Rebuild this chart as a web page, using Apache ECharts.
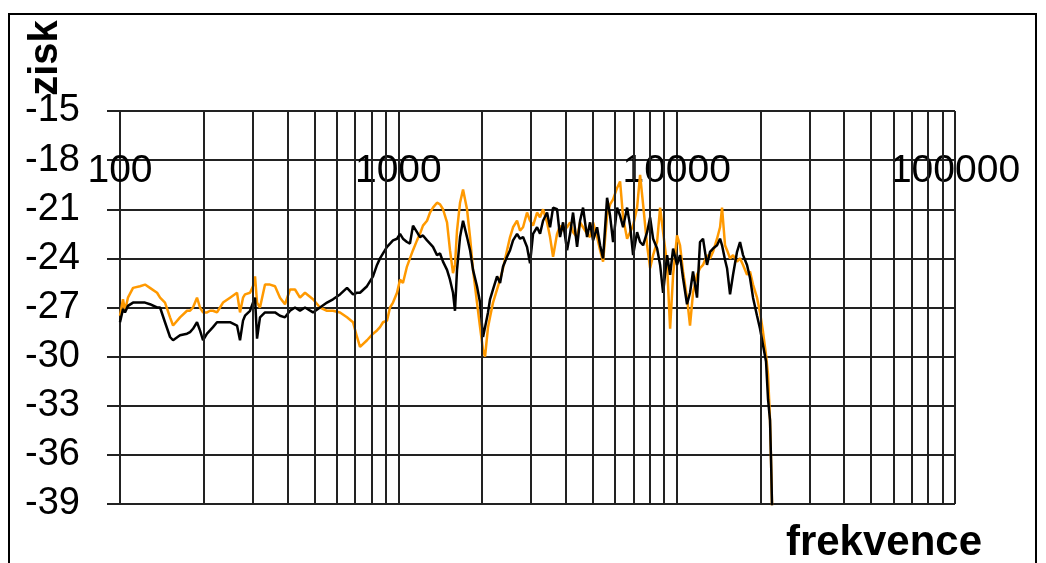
<!DOCTYPE html>
<html>
<head>
<meta charset="utf-8">
<script src="https://cdn.jsdelivr.net/npm/echarts@6/dist/echarts.min.js"></script>
<style>
  html, body { margin: 0; padding: 0; background: #fff; }
  #chart { width: 1046px; height: 563px; }
</style>
</head>
<body>
<div id="chart"></div>
<script>
// Frequency points (Hz), shared by both measurements
const freqs = [
  100, 102.5, 104.2, 106.8, 111.4, 118, 123, 128.1, 135.9, 139.3,
  145.1, 151.3, 155.1, 164.3, 174.1, 178.5, 182.9, 189.1, 193.8, 198.7,
  205.4, 210.6, 215.8, 223.1, 228.7, 234.5, 248.5, 263.3, 269.9, 276.7,
  281.3, 293.2, 300.5, 305.6, 310.7, 318.4, 331.9, 345.9, 360.5, 375.7,
  391.6, 408.1, 425.4, 443.3, 462, 493.7, 523.1, 554.3, 582.5, 617.2,
  654, 687.4, 710.5, 728.3, 771.7, 811.1, 838.3, 859.4, 881, 910.6,
  933.5, 956.9, 989.1, 1014, 1039, 1074, 1101, 1129, 1167, 1196,
  1226, 1268, 1300, 1332, 1377, 1412, 1447, 1496, 1533, 1572,
  1598, 1625, 1666, 1708, 1765, 1810, 1855, 1917, 1966, 2015,
  2049, 2100, 2135, 2189, 2263, 2320, 2378, 2458, 2520, 2583,
  2670, 2737, 2806, 2900, 2973, 3048, 3151, 3230, 3311, 3422,
  3508, 3597, 3718, 3811, 3907, 4038, 4140, 4244, 4387, 4497,
  4610, 4765, 4885, 5008, 5177, 5307, 5440, 5623, 5765, 5910,
  6109, 6262, 6420, 6636, 6802, 6974, 7208, 7389, 7575, 7830,
  8027, 8229, 8506, 8720, 8939, 9240, 9472, 9710, 10029, 10281,
  10540, 10893, 11168, 11448, 11834, 12131, 12437, 12855, 13179, 13510,
  13965, 14316, 14555, 14921, 15170, 15551, 15942, 16477, 16891, 17316,
  17898, 18348, 18809, 19441, 19930, 20431, 20944, 21294, 21649, 21829,
  22010, 22378
];

// Gain (dB) of the black measurement
const blackGain = [
  -27.9, -27.1, -27.3, -26.9, -26.7, -26.7, -26.7, -26.8, -27.0, -27.0,
  -27.9, -28.8, -29.0, -28.7, -28.6, -28.5, -28.3, -27.9, -28.4, -29.0,
  -28.6, -28.4, -28.2, -27.9, -27.9, -27.9, -27.9, -28.1, -29.0, -27.8,
  -27.5, -27.2, -26.7, -26.4, -28.9, -27.6, -27.3, -27.3, -27.3, -27.5,
  -27.6, -27.2, -27.0, -27.2, -27.0, -27.3, -27.0, -26.7, -26.5, -26.2,
  -25.8, -26.2, -26.1, -26.1, -25.7, -25.1, -24.4, -24.0, -23.7, -23.3,
  -23.1, -22.9, -22.8, -22.5, -22.8, -23.0, -23.1, -22.0, -22.4, -22.7,
  -22.6, -22.9, -23.1, -23.3, -23.8, -23.7, -24.2, -24.7, -25.3, -26.1,
  -27.2, -24.7, -22.7, -21.7, -22.7, -23.5, -24.7, -25.7, -26.7, -28.8,
  -28.2, -27.3, -26.5, -25.9, -25.1, -25.5, -24.5, -23.9, -23.5, -22.9,
  -22.5, -22.8, -22.7, -23.3, -24.3, -22.5, -22.1, -22.5, -21.7, -21.2,
  -22.1, -20.9, -21.0, -22.7, -21.8, -23.5, -22.5, -21.2, -23.3, -21.7,
  -20.9, -22.7, -21.8, -22.9, -22.1, -23.2, -24.0, -20.3, -21.4, -23.0,
  -20.9, -21.4, -22.1, -20.9, -22.0, -23.8, -22.4, -23.0, -23.2, -22.4,
  -21.5, -22.8, -23.4, -24.4, -26.1, -23.8, -25.0, -23.4, -24.4, -23.8,
  -25.2, -26.8, -26.1, -24.8, -26.4, -23.0, -22.8, -24.4, -23.6, -23.4,
  -23.2, -22.8, -23.2, -24.1, -24.6, -26.2, -25.0, -23.6, -23.0, -23.8,
  -24.4, -25.2, -26.4, -27.5, -28.3, -29.3, -30.3, -32.6, -33.9, -36.3,
  -39.1, -41.2
];

// Gain (dB) of the orange measurement
const orangeGain = [
  -27.5, -26.5, -27.2, -26.4, -25.8, -25.7, -25.6, -25.8, -26.1, -26.4,
  -26.7, -27.6, -28.1, -27.6, -27.2, -27.2, -27.0, -26.4, -27.0, -27.3,
  -27.3, -27.2, -27.2, -27.3, -27.0, -26.7, -26.4, -26.1, -27.3, -26.4,
  -26.2, -26.1, -25.7, -25.1, -26.7, -27.0, -25.6, -25.6, -25.7, -26.4,
  -26.8, -25.9, -25.9, -26.4, -26.1, -26.5, -27.0, -27.2, -27.2, -27.3,
  -27.6, -27.9, -28.8, -29.4, -29.0, -28.6, -28.4, -28.2, -27.9, -27.8,
  -27.0, -26.7, -26.1, -25.3, -25.5, -24.5, -24.0, -23.5, -22.9, -22.5,
  -22.0, -21.7, -21.2, -20.9, -20.6, -20.7, -21.0, -21.8, -23.5, -24.9,
  -24.4, -22.3, -20.6, -19.8, -21.0, -22.7, -24.7, -26.7, -28.2, -29.6,
  -30.0, -28.2, -27.6, -26.7, -25.9, -25.3, -24.6, -23.5, -22.7, -22.1,
  -21.7, -22.3, -22.1, -21.2, -21.7, -22.0, -21.2, -21.5, -21.0, -21.8,
  -22.7, -23.9, -22.5, -22.0, -22.3, -22.1, -21.8, -22.4, -22.7, -21.8,
  -22.1, -22.5, -22.7, -21.8, -22.7, -23.5, -24.2, -21.4, -20.7, -20.4,
  -19.7, -19.3, -21.5, -22.8, -22.4, -22.0, -20.9, -18.9, -20.7, -23.2,
  -24.6, -23.8, -23.0, -20.9, -22.4, -24.4, -28.3, -25.0, -22.6, -23.2,
  -24.8, -26.4, -28.1, -26.1, -25.0, -24.6, -24.4, -23.8, -24.0, -23.6,
  -22.8, -22.1, -20.9, -23.2, -23.5, -24.0, -23.8, -24.2, -24.0, -24.4,
  -25.0, -24.8, -25.6, -26.4, -27.3, -28.5, -29.9, -31.1, -33.9, -36.3,
  -39.1, -41.2
];

// Vertical scale and intermediate log-decade grid lines
const gainMin = -39, gainMax = -15, gainStep = 3;
const minorFreqs = [];
[100, 1000, 10000].forEach(function (d) {
  for (let k = 2; k <= 9; k++) minorFreqs.push(d * k);
});

const FONT = "'Liberation Sans', Arial, sans-serif";
const GRID_COLOR = '#222';

function pairs(values) {
  return freqs.map(function (f, i) { return [f, values[i]]; });
}

const chart = echarts.init(document.getElementById('chart'), null, { renderer: 'canvas' });
chart.setOption({
  animation: false,
  backgroundColor: '#ffffff',
  grid: { left: 120, top: 111, width: 835, height: 393, containLabel: false },
  xAxis: {
    type: 'log',
    logBase: 10,
    min: 100,
    max: 100000,
    position: 'top',
    axisLine: { show: false },
    axisTick: { show: false },
    axisLabel: {
      inside: true,
      margin: 41,
      fontFamily: FONT,
      fontSize: 39,
      color: '#000',
      formatter: function (v) { return String(Math.round(v)); }
    },
    splitLine: { show: true, lineStyle: { color: GRID_COLOR, width: 2 } },
    minorSplitLine: { show: false }
  },
  yAxis: {
    type: 'value',
    min: gainMin,
    max: gainMax,
    interval: gainStep,
    axisLine: { show: true, lineStyle: { color: GRID_COLOR, width: 2 } },
    axisTick: { show: true, inside: false, length: 13, lineStyle: { color: GRID_COLOR, width: 2 } },
    axisLabel: {
      margin: 40,
      fontFamily: FONT,
      fontSize: 38,
      color: '#000'
    },
    splitLine: { show: true, lineStyle: { color: GRID_COLOR, width: 2 } }
  },
  graphic: [
    {
      type: 'rect',
      shape: { x: 9, y: 14, width: 1027, height: 580 },
      style: { fill: 'none', stroke: '#000', lineWidth: 2 },
      silent: true
    },
    {
      type: 'text',
      x: 46, y: 58,
      rotation: Math.PI / 2,
      style: {
        text: 'zisk',
        font: 'bold 40px ' + FONT,
        fill: '#000',
        textAlign: 'center',
        textVerticalAlign: 'middle'
      },
      silent: true
    },
    {
      type: 'text',
      x: 884, y: 543,
      style: {
        text: 'frekvence',
        font: 'bold 42px ' + FONT,
        fill: '#000',
        textAlign: 'center',
        textVerticalAlign: 'middle'
      },
      silent: true
    }
  ],
  series: [
    {
      name: 'minor-grid',
      type: 'line',
      data: [],
      z: 1,
      silent: true,
      markLine: {
        silent: true,
        symbol: ['none', 'none'],
        label: { show: false },
        lineStyle: { color: GRID_COLOR, width: 2, type: 'solid' },
        data: minorFreqs.map(function (f) { return { xAxis: f }; })
      }
    },
    {
      name: 'orange',
      type: 'line',
      data: pairs(orangeGain),
      showSymbol: false,
      symbol: 'none',
      lineStyle: { color: '#ff9900', width: 2.5 },
      z: 3
    },
    {
      name: 'black',
      type: 'line',
      data: pairs(blackGain),
      showSymbol: false,
      symbol: 'none',
      lineStyle: { color: '#000000', width: 2.5 },
      z: 4
    }
  ]
});
</script>
</body>
</html>
